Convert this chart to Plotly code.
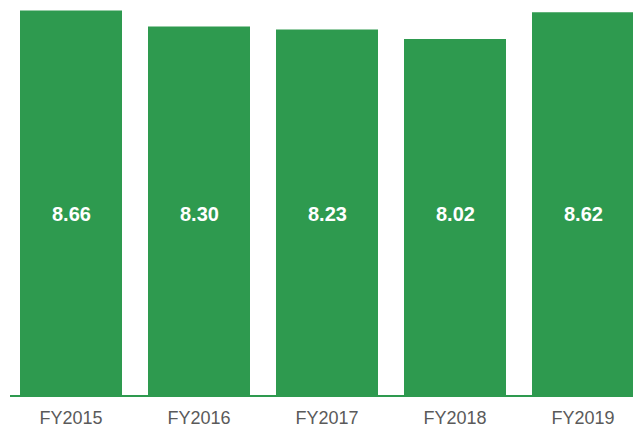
import plotly.graph_objects as go

categories = ["FY2015", "FY2016", "FY2017", "FY2018", "FY2019"]
values = [8.66, 8.30, 8.23, 8.02, 8.62]
value_labels = ["8.66", "8.30", "8.23", "8.02", "8.62"]

GREEN = "#2e9a4f"
W, H = 633, 428
ML, MB = 7, 32
LABEL_Y = 4.09
YMAX = 8.895

fig = go.Figure()
fig.add_trace(go.Bar(
    x=list(range(len(categories))), y=values,
    marker=dict(color=GREEN, line=dict(width=0)),
    hoverinfo="skip",
))
for i, t in enumerate(value_labels):
    fig.add_annotation(x=i, y=LABEL_Y, text="<b>" + t + "</b>", showarrow=False,
                       font=dict(family="Liberation Sans, Arial, sans-serif", size=20, color="white"),
                       xanchor="center", yanchor="middle")
fig.add_shape(type="line", xref="paper", yref="paper",
              x0=(10 - ML) / (W - ML), x1=1, y0=0, y1=0,
              line=dict(color=GREEN, width=2))

fig.update_layout(
    width=W, height=H,
    margin=dict(l=ML, r=0, t=0, b=MB),
    plot_bgcolor="white", paper_bgcolor="white",
    bargap=26 / 128,
    showlegend=False,
    xaxis=dict(range=[-0.5, -0.5 + (W - ML) / 128], tickmode="array",
               tickvals=list(range(len(categories))), ticktext=categories,
               showgrid=False, zeroline=False, showline=False, automargin=False,
               ticks="outside", ticklen=5, tickcolor="rgba(0,0,0,0)",
               tickfont=dict(family="Liberation Sans, Arial, sans-serif", size=18, color="#5a5a5a")),
    yaxis=dict(range=[0, YMAX], visible=False, showgrid=False, zeroline=False, automargin=False),
)
fig.write_html("out.html")
